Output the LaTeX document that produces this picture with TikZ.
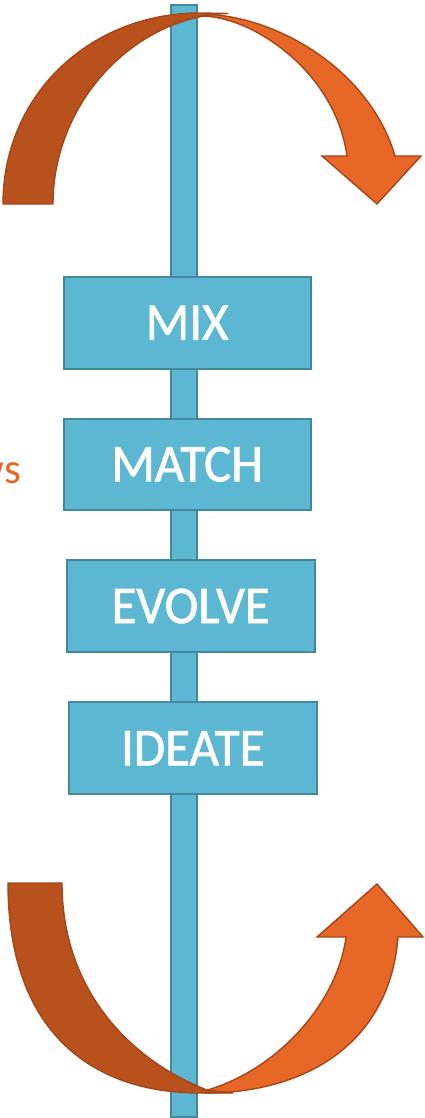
\documentclass[tikz,border=0pt]{standalone}
\usepackage{fontspec}
\setmainfont{Carlito}[FakeStretch=0.96,FakeBold=1.3]
\newfontfamily\sidefont{Carlito}
\definecolor{barfill}{HTML}{5CB8D2}
\definecolor{barline}{HTML}{41889B}
\definecolor{darkarrow}{HTML}{B9511C}
\definecolor{lightarrow}{HTML}{E66726}
\definecolor{arrowline}{HTML}{A5461A}
\tikzset{
  stepbox/.style={draw=barline, fill=barfill, line width=2pt, text=white,
    font=\fontsize{53}{60}\selectfont, inner sep=0pt},
  spine/.style={draw=barline, fill=barfill, line width=1.6pt, inner sep=0pt},
  darkband/.style={fill=darkarrow, draw=arrowline, line width=1.4pt, line join=round},
  lightband/.style={fill=lightarrow, draw=arrowline, line width=1.4pt, line join=miter},
}
\begin{document}
\begin{tikzpicture}[x=1pt,y=-1pt]
\useasboundingbox (0,0) rectangle (424,1118);
% spine
\node[spine, minimum width=26pt, minimum height=1112pt] (bar) at (184,561) {};
% top arrow
\draw[lightband] (197,14) .. controls (275,13) and (370,70) .. (395,156)
  -- (421,156) -- (377,204) -- (322,156) -- (347,156)
  .. controls (335,70) and (250,15) .. (200,16) -- cycle;
\draw[darkband] (3,204) .. controls (3,95) and (90,13) .. (200,13) -- (228,13.5)
  .. controls (135,16) and (53,102) .. (53,204) -- cycle;
% bottom arrow
\draw[lightband] (204,1091) .. controls (280,1070) and (338,1000) .. (346,937)
  -- (317,937) -- (377,884) -- (423,937) -- (398,937)
  .. controls (390,1040) and (310,1093) .. (205,1093) -- cycle;
\draw[darkband] (8,883) -- (62,883) .. controls (62,990) and (130,1060) .. (207,1090)
  -- (233,1093) -- (200,1093) .. controls (90,1093) and (8,1030) .. (8,883) -- cycle;
% steps
\node[stepbox, minimum width=247pt, minimum height=92pt] (mix) at (187.1,322.7) {MIX};
\node[stepbox, minimum width=247pt, minimum height=91pt] (match) at (187.1,464.3) {MATCH};
\node[stepbox, minimum width=248pt, minimum height=92pt] (evolve) at (190.7,606) {EVOLVE};
\node[stepbox, minimum width=248pt, minimum height=92pt] (ideate) at (192.8,748.3) {IDEATE};
% clipped side text
\node[anchor=base east, text=lightarrow, inner sep=0pt, font=\sidefont\fontsize{43}{48}\selectfont] (side) at (21,483) {ws};
\end{tikzpicture}
\end{document}
